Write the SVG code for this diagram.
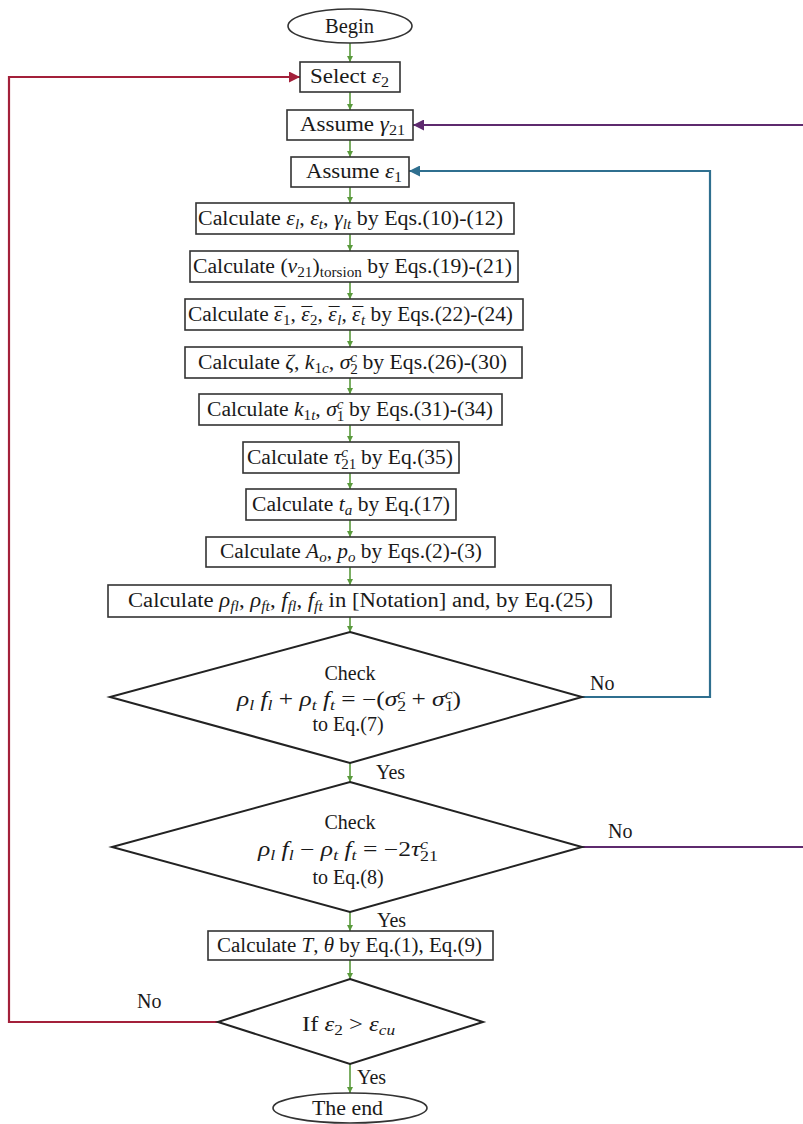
<svg xmlns="http://www.w3.org/2000/svg" width="803" height="1124" viewBox="0 0 803 1124" font-family="'Liberation Serif', 'Times New Roman', 'DejaVu Serif', serif">
<style>
text{font-family:"Liberation Serif","Times New Roman","DejaVu Serif",serif;font-size:20px;fill:#1a1a1a}
.i{font-style:italic}
.sb{font-size:14px}
.box{fill:#fff;stroke:#333;stroke-width:1.6}
.dia{fill:#fff;stroke:#222;stroke-width:2}
.g{fill:none;stroke:#5a9a3c;stroke-width:1.6}
.red{fill:none;stroke:#a3203a;stroke-width:2.2}
.pur{fill:none;stroke:#5e2a6e;stroke-width:2.2}
.blu{fill:none;stroke:#2f6f8f;stroke-width:2.2}
</style>
<defs>
<marker id="ag" viewBox="0 0 10 10" refX="10" refY="5" markerWidth="4" markerHeight="4" orient="auto"><path d="M0,0L10,5L0,10z" fill="#5a9a3c"/></marker>
<marker id="ar" viewBox="0 0 10 10" refX="10" refY="5" markerWidth="5" markerHeight="5" orient="auto"><path d="M0,0L10,5L0,10z" fill="#a3203a"/></marker>
<marker id="ap" viewBox="0 0 10 10" refX="10" refY="5" markerWidth="5" markerHeight="5" orient="auto"><path d="M0,0L10,5L0,10z" fill="#5e2a6e"/></marker>
<marker id="ab" viewBox="0 0 10 10" refX="10" refY="5" markerWidth="5" markerHeight="5" orient="auto"><path d="M0,0L10,5L0,10z" fill="#2f6f8f"/></marker>
</defs>
<rect width="803" height="1124" fill="#fff"/>

<g id="connectors">
<path class="g" marker-end="url(#ag)" d="M350,43V62"/>
<path class="g" marker-end="url(#ag)" d="M350,92V110"/>
<path class="g" marker-end="url(#ag)" d="M350,140V157"/>
<path class="g" marker-end="url(#ag)" d="M350,187V203"/>
<path class="g" marker-end="url(#ag)" d="M350,234V251"/>
<path class="g" marker-end="url(#ag)" d="M350,282V299"/>
<path class="g" marker-end="url(#ag)" d="M350,330V347"/>
<path class="g" marker-end="url(#ag)" d="M350,378V394"/>
<path class="g" marker-end="url(#ag)" d="M350,425V442"/>
<path class="g" marker-end="url(#ag)" d="M350,473V489"/>
<path class="g" marker-end="url(#ag)" d="M350,520V537"/>
<path class="g" marker-end="url(#ag)" d="M350,567V585"/>
<path class="g" marker-end="url(#ag)" d="M350,617V632"/>
<path class="g" marker-end="url(#ag)" d="M350,763V782"/>
<path class="g" marker-end="url(#ag)" d="M350,912V931"/>
<path class="g" marker-end="url(#ag)" d="M350,960V979"/>
<path class="g" marker-end="url(#ag)" d="M350,1064V1093"/>
<path class="red" marker-end="url(#ar)" d="M218,1022H9V77H300"/>
<path class="pur" marker-end="url(#ap)" d="M582,847H808V125H413"/>
<path class="blu" marker-end="url(#ab)" d="M582,697H710V171H409"/>
<text x="590" y="690">No</text>
<text x="608" y="838">No</text>
<text x="137" y="1008">No</text>
<text x="376" y="779">Yes</text>
<text x="377" y="927">Yes</text>
<text x="357" y="1084">Yes</text>
</g>

<g id="begin"><ellipse cx="350" cy="26" rx="62" ry="17" class="box"/><text x="325" y="33" textLength="49" lengthAdjust="spacingAndGlyphs">Begin</text></g>

<g id="select"><rect x="300" y="62" width="100" height="30" class="box"/><text x="310" y="83" textLength="79" lengthAdjust="spacingAndGlyphs">Select <tspan class="i">ε</tspan><tspan class="sb" dy="4">2</tspan></text></g>

<g id="assume-gamma"><rect x="287" y="110" width="126" height="30" class="box"/><text x="300" y="131" textLength="105" lengthAdjust="spacingAndGlyphs">Assume <tspan class="i">γ</tspan><tspan class="sb" dy="4">21</tspan></text></g>

<g id="assume-eps"><rect x="291" y="157" width="118" height="30" class="box"/><text x="306" y="178" textLength="96" lengthAdjust="spacingAndGlyphs">Assume <tspan class="i">ε</tspan><tspan class="sb" dy="4">1</tspan></text></g>

<g id="calc-strains"><rect x="196" y="203" width="318" height="31" class="box"/><text x="198" y="225" textLength="305" lengthAdjust="spacingAndGlyphs">Calculate <tspan class="i">ε</tspan><tspan class="sb i" dy="4">l</tspan><tspan dy="-4">, </tspan><tspan class="i">ε</tspan><tspan class="sb i" dy="4">t</tspan><tspan dy="-4">, </tspan><tspan class="i">γ</tspan><tspan class="sb i" dy="4">lt</tspan><tspan dy="-4"> by Eqs.(10)-(12)</tspan></text></g>

<g id="calc-nu"><rect x="190" y="251" width="328" height="31" class="box"/><text x="193" y="273" textLength="319" lengthAdjust="spacingAndGlyphs">Calculate (<tspan class="i">ν</tspan><tspan class="sb" dy="4">21</tspan><tspan dy="-4">)</tspan><tspan class="sb" dy="4">torsion</tspan><tspan dy="-4"> by Eqs.(19)-(21)</tspan></text></g>

<g id="calc-epsbar"><rect x="185" y="299" width="338" height="31" class="box"/><text x="188" y="321" textLength="325" lengthAdjust="spacingAndGlyphs">Calculate <tspan class="i">ε</tspan><tspan dx="-7.5" dy="1">¯</tspan><tspan class="sb" dx="-2" dy="3">1</tspan><tspan dy="-4">, </tspan><tspan class="i">ε</tspan><tspan dx="-7.5" dy="1">¯</tspan><tspan class="sb" dx="-2" dy="3">2</tspan><tspan dy="-4">, </tspan><tspan class="i">ε</tspan><tspan dx="-7.5" dy="1">¯</tspan><tspan class="sb i" dx="-2" dy="3">l</tspan><tspan dy="-4">, </tspan><tspan class="i">ε</tspan><tspan dx="-7.5" dy="1">¯</tspan><tspan class="sb i" dx="-2" dy="3">t</tspan><tspan dy="-4"> by Eqs.(22)-(24)</tspan></text></g>

<g id="calc-zeta"><rect x="185" y="347" width="337" height="31" class="box"/><text x="198" y="369" textLength="309" lengthAdjust="spacingAndGlyphs">Calculate <tspan class="i">ζ</tspan>, <tspan class="i">k</tspan><tspan class="sb" dy="4">1<tspan class="i">c</tspan></tspan><tspan dy="-4">, </tspan><tspan class="i">σ</tspan><tspan class="sb" dy="5">2</tspan><tspan class="sb i" dx="-7" dy="-12">c</tspan><tspan dy="7"> by Eqs.(26)-(30)</tspan></text></g>

<g id="calc-k1t"><rect x="199" y="394" width="303" height="31" class="box"/><text x="207" y="416" textLength="286" lengthAdjust="spacingAndGlyphs">Calculate <tspan class="i">k</tspan><tspan class="sb" dy="4">1<tspan class="i">t</tspan></tspan><tspan dy="-4">, </tspan><tspan class="i">σ</tspan><tspan class="sb" dy="5">1</tspan><tspan class="sb i" dx="-7" dy="-12">c</tspan><tspan dy="7"> by Eqs.(31)-(34)</tspan></text></g>

<g id="calc-tau"><rect x="243" y="442" width="216" height="31" class="box"/><text x="247" y="464" textLength="206" lengthAdjust="spacingAndGlyphs">Calculate <tspan class="i">τ</tspan><tspan class="sb" dy="5">21</tspan><tspan class="sb i" dx="-14" dy="-12">c</tspan><tspan dx="7" dy="7"> by Eq.(35)</tspan></text></g>

<g id="calc-ta"><rect x="246" y="489" width="210" height="31" class="box"/><text x="252" y="511" textLength="198" lengthAdjust="spacingAndGlyphs">Calculate <tspan class="i">t</tspan><tspan class="sb i" dy="4">a</tspan><tspan dy="-4"> by Eq.(17)</tspan></text></g>

<g id="calc-ao"><rect x="206" y="537" width="289" height="30" class="box"/><text x="220" y="558" textLength="262" lengthAdjust="spacingAndGlyphs">Calculate <tspan class="i">A</tspan><tspan class="sb i" dy="4">o</tspan><tspan dy="-4">, </tspan><tspan class="i">p</tspan><tspan class="sb i" dy="4">o</tspan><tspan dy="-4"> by Eqs.(2)-(3)</tspan></text></g>

<g id="calc-rho"><rect x="108" y="585" width="503" height="32" class="box"/><text x="128" y="607" textLength="465" lengthAdjust="spacingAndGlyphs">Calculate <tspan class="i">ρ</tspan><tspan class="sb i" dy="4">fl</tspan><tspan dy="-4">, </tspan><tspan class="i">ρ</tspan><tspan class="sb i" dy="4">ft</tspan><tspan dy="-4">, </tspan><tspan class="i">f</tspan><tspan class="sb i" dy="4">fl</tspan><tspan dy="-4">, </tspan><tspan class="i">f</tspan><tspan class="sb i" dy="4">ft</tspan><tspan dy="-4"> in [Notation] and, by Eq.(25)</tspan></text></g>

<g id="check1"><polygon points="350,632 582,697 350,763 110,697" class="dia"/>
<text x="350" y="680" text-anchor="middle">Check</text>
<text x="237" y="706" textLength="224" lengthAdjust="spacingAndGlyphs"><tspan class="i">ρ</tspan><tspan class="sb i" dy="4">l</tspan><tspan dy="-4"> </tspan><tspan class="i">f</tspan><tspan class="sb i" dy="4">l</tspan><tspan dy="-4"> + </tspan><tspan class="i">ρ</tspan><tspan class="sb i" dy="4">t</tspan><tspan dy="-4"> </tspan><tspan class="i">f</tspan><tspan class="sb i" dy="4">t</tspan><tspan dy="-4"> = −(</tspan><tspan class="i">σ</tspan><tspan class="sb" dy="5">2</tspan><tspan class="sb i" dx="-7" dy="-12">c</tspan><tspan dy="7"> + </tspan><tspan class="i">σ</tspan><tspan class="sb" dy="5">1</tspan><tspan class="sb i" dx="-7" dy="-12">c</tspan><tspan dy="7">)</tspan></text>
<text x="348" y="731" text-anchor="middle">to Eq.(7)</text></g>

<g id="check2"><polygon points="350,782 582,847 350,912 112,847" class="dia"/>
<text x="350" y="829" text-anchor="middle">Check</text>
<text x="258" y="856" textLength="180" lengthAdjust="spacingAndGlyphs"><tspan class="i">ρ</tspan><tspan class="sb i" dy="4">l</tspan><tspan dy="-4"> </tspan><tspan class="i">f</tspan><tspan class="sb i" dy="4">l</tspan><tspan dy="-4"> − </tspan><tspan class="i">ρ</tspan><tspan class="sb i" dy="4">t</tspan><tspan dy="-4"> </tspan><tspan class="i">f</tspan><tspan class="sb i" dy="4">t</tspan><tspan dy="-4"> = −2</tspan><tspan class="i">τ</tspan><tspan class="sb" dy="5">21</tspan><tspan class="sb i" dx="-14" dy="-12">c</tspan></text>
<text x="348" y="884" text-anchor="middle">to Eq.(8)</text></g>

<g id="calc-T"><rect x="208" y="931" width="285" height="29" class="box"/><text x="217" y="952" textLength="265" lengthAdjust="spacingAndGlyphs">Calculate <tspan class="i">T</tspan>, <tspan class="i">θ</tspan> by Eq.(1), Eq.(9)</text></g>

<g id="check3"><polygon points="350,979 483,1022 350,1064 218,1022" class="dia"/>
<text x="302" y="1031" textLength="93" lengthAdjust="spacingAndGlyphs">If <tspan class="i">ε</tspan><tspan class="sb" dy="4">2</tspan><tspan dy="-4"> &gt; </tspan><tspan class="i">ε</tspan><tspan class="sb i" dy="4">cu</tspan></text></g>

<g id="end"><ellipse cx="350" cy="1108" rx="77" ry="15" class="box"/><text x="312" y="1115" textLength="71" lengthAdjust="spacingAndGlyphs">The end</text></g>
</svg>
